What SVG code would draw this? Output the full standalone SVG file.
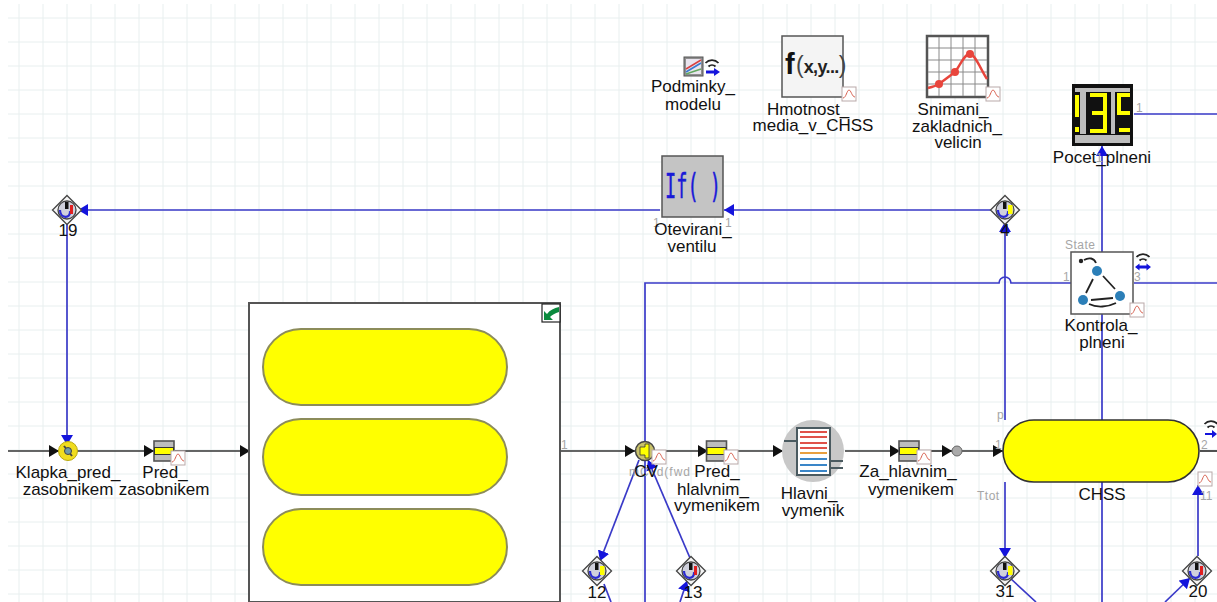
<svg xmlns="http://www.w3.org/2000/svg" width="1217" height="602" viewBox="0 0 1217 602">
<style>
text{font-family:"Liberation Sans",Arial,sans-serif}
.l{font-size:17px;fill:#111;text-anchor:middle}
.p{font-size:12px;fill:#a6a6a6}
.b{fill:none;stroke:#3a3ac8;stroke-width:1.7}
.k{fill:none;stroke:#333;stroke-width:1.7}
.g{stroke:#e8efef;stroke-width:1;fill:none}
</style>
<defs>
<marker id="ak" markerUnits="userSpaceOnUse" markerWidth="11" markerHeight="12" refX="10" refY="6" orient="auto"><path d="M0 0L10 6L0 12Z" fill="#111"/></marker>
<marker id="ab" markerUnits="userSpaceOnUse" markerWidth="11" markerHeight="12" refX="10" refY="6" orient="auto"><path d="M0 0L10 6L0 12Z" fill="#1414dc"/></marker>
<g id="plot"><rect x="-7" y="-7" width="14" height="14" fill="#fff" stroke="#b9a9a9" stroke-width="1"/><path d="M-6 4C-3 4-2-4 0-4S3 3 6 3" fill="none" stroke="#d8604f" stroke-width="1"/></g>
<g id="pipe"><rect x="-10.500" y="-10" width="20" height="20" fill="#bdbdbd" stroke="#555" stroke-width="1.600"/><rect x="-10" y="-3.500" width="19" height="7" fill="#ffff00" stroke="#333" stroke-width="1"/></g>
<g id="wifi"><path d="M-6.500-2A9 9 0 0 1 6.500-2M-3.500 1.500A5 5 0 0 1 3.500 1.500" fill="none" stroke="#222" stroke-width="1.800"/></g>
<g id="sensorBase"><path d="M0-14.500L14.500 0L0 14.500L-14.500 0Z" fill="#f4f4f4" stroke="#444" stroke-width="1.300"/><circle r="9" fill="#cfd0dc" stroke="#444" stroke-width="1.300"/><path d="M-7 0C-7 9 4 9 3 1" fill="none" stroke="#2a2ad0" stroke-width="2.200"/><rect x="-2" y="-8" width="3.500" height="7" fill="#111"/></g>
<g id="sensorY"><use href="#sensorBase"/><rect x="3" y="-5" width="4.500" height="9" fill="#ffff00"/></g>
<g id="sensorR"><use href="#sensorBase"/><rect x="3" y="-5" width="3" height="9" fill="#e02020"/></g>
<g id="tank"><rect x="-122" y="-38" width="244" height="76" rx="38" ry="38" fill="#ffff00" stroke="#8c8c5a" stroke-width="2"/></g>
</defs>

<rect width="1217" height="602" fill="#fff"/>
<g id="grid" class="g">
<path d="M19 4V602M43 4V602M67 4V602M91 4V602M115 4V602M139 4V602M163 4V602M187 4V602M211 4V602M235 4V602M259 4V602M283 4V602M307 4V602M331 4V602M355 4V602M379 4V602M403 4V602M427 4V602M451 4V602M475 4V602M499 4V602M523 4V602M547 4V602M571 4V602M595 4V602M619 4V602M643 4V602M667 4V602M691 4V602M715 4V602M739 4V602M763 4V602M787 4V602M811 4V602M835 4V602M859 4V602M883 4V602M907 4V602M931 4V602M955 4V602M979 4V602M1003 4V602M1027 4V602M1051 4V602M1075 4V602M1099 4V602M1123 4V602M1147 4V602M1171 4V602M1195 4V602"/>
<path d="M8 18H1217M8 42H1217M8 66H1217M8 90H1217M8 114H1217M8 138H1217M8 162H1217M8 186H1217M8 210H1217M8 234H1217M8 258H1217M8 282H1217M8 306H1217M8 330H1217M8 354H1217M8 378H1217M8 402H1217M8 426H1217M8 450H1217M8 474H1217M8 498H1217M8 522H1217M8 546H1217M8 570H1217M8 594H1217"/>
</g>

<g id="connectors">
<path class="k" marker-end="url(#ak)" d="M8 451H59"/>
<path class="k" marker-end="url(#ak)" d="M75 451H154"/>
<path class="k" marker-end="url(#ak)" d="M175 451H250"/>
<path class="k" marker-end="url(#ak)" d="M560 451H635"/>
<path class="k" marker-end="url(#ak)" d="M652 451H708"/>
<path class="k" marker-end="url(#ak)" d="M726 451H783"/>
<path class="k" marker-end="url(#ak)" d="M845 451H900"/>
<path class="k" marker-end="url(#ak)" d="M920 451H952"/>
<path class="k" marker-end="url(#ak)" d="M962 451H1003"/>
<path class="k" d="M1200 451H1217"/>
<path class="b" marker-end="url(#ab)" d="M660 210H78"/>
<path class="b" marker-end="url(#ab)" d="M992 210H724"/>
<path class="b" marker-end="url(#ab)" d="M67 224V445"/>
<path class="b" marker-end="url(#ab)" d="M1005 420V222"/>
<path class="b" marker-end="url(#ab)" d="M1005 482V558"/>
<path class="b" d="M645 602V283H999A6 6 0 0 1 1011 283H1071"/>
<path class="b" d="M1134 283H1217"/>
<path class="b" d="M1134 114H1217"/>
<path class="b" marker-end="url(#ab)" d="M1102 252V146"/>
<path class="b" d="M1102 314V420M1102 482V602"/>
<path class="b" marker-end="url(#ab)" d="M639 460L600 561"/>
<path class="b" marker-end="url(#ab)" d="M690 558L648 460"/>
<path class="b" d="M604 584L611 602M1010 578L1036 602"/>
<path class="b" marker-end="url(#ab)" d="M680 602L687 581"/>
<path class="b" marker-end="url(#ab)" d="M1165 602L1190 578"/>
<path class="b" marker-end="url(#ab)" d="M1198 556V485"/>
</g>

<g id="Podminky_modelu">
<rect x="684" y="57" width="19" height="19" fill="#8f8f8f" stroke="#555"/>
<rect x="686" y="59" width="15" height="15" fill="#e9e4ee"/>
<path d="M686 72L701 63" fill="none" stroke="#3a7ad0" stroke-width="1.800"/>
<path d="M686 69L701 60" fill="none" stroke="#d84040" stroke-width="1.500"/>
<path d="M686 74L701 69" fill="none" stroke="#62a860" stroke-width="1.500"/>
<use href="#wifi" x="712" y="65"/>
<path d="M706 70.500H714V68L720 72L714 76V73.500H706Z" fill="#1414dc"/>
<text class="l" x="693" y="92">Podminky_</text><text class="l" x="693" y="110">modelu</text>
</g>

<g id="Hmotnost_media_v_CHSS">
<rect x="782" y="36" width="61" height="61" fill="#f4f4f4" stroke="#555" stroke-width="1.500"/>
<text x="785" y="74" font-size="29" font-weight="700" fill="#111">f</text>
<text x="796" y="73" fill="#222"><tspan font-size="23" fill="#444">(</tspan><tspan font-size="18" font-weight="700" letter-spacing="-.6">x,y...</tspan><tspan font-size="23" fill="#444">)</tspan></text>
<use href="#plot" x="849" y="94"/>
<text class="l" x="808" y="115">Hmotnost_</text><text class="l" x="813" y="131">media_v_CHSS</text>
</g>

<g id="Snimani_zakladnich_velicin">
<rect x="927" y="36" width="61" height="61" fill="#fff" stroke="#555" stroke-width="2.500"/>
<path d="M939 37V96M951 37V96M963 37V96M975 37V96M928 48H987M928 60H987M928 72H987M928 84H987" stroke="#8a8a8a" stroke-width="1" fill="none"/>
<path d="M928 88C932 87 936 86 939 84L955 72C960 66 964 54 970 54C975 54 981 70 987 79" fill="none" stroke="#e8453c" stroke-width="2.400"/>
<circle cx="939" cy="84" r="4" fill="#e8453c"/><circle cx="955" cy="72" r="4" fill="#e8453c"/><circle cx="970" cy="54" r="4" fill="#e8453c"/>
<use href="#plot" x="993" y="94"/>
<text class="l" x="953" y="115">Snimani_</text><text class="l" x="957" y="132">zakladnich_</text><text class="l" x="958" y="148">velicin</text>
</g>

<g id="Pocet_plneni">
<rect x="1072" y="84" width="61" height="62" fill="#111"/>
<rect x="1075" y="88" width="55" height="46" fill="#bdbdbd"/>
<rect x="1075" y="135" width="55" height="8" fill="#bdbdbd"/>
<rect x="1074" y="92" width="6" height="42" fill="#111"/><rect x="1086" y="92" width="25" height="42" fill="#111"/><rect x="1115" y="92" width="15" height="42" fill="#111"/>
<path d="M1077 95V117M1077 127V132M1090 95H1105V131H1090M1092 113H1105M1130 95H1119V113H1130M1119 130H1130" fill="none" stroke="#ffff00" stroke-width="4"/>
<text class="p" x="1096" y="162">1</text><text class="p" x="1136" y="112">1</text>
<text class="l" x="1102" y="163">Pocet_plneni</text>
</g>

<g id="Otevirani_ventilu">
<rect x="662" y="156" width="61" height="61" fill="#c4c4c4" stroke="#555" stroke-width="1.500"/>
<text x="665" y="198" font-size="34" fill="#1a1ad8" stroke="#1a1ad8" stroke-width=".5" textLength="56" lengthAdjust="spacingAndGlyphs" style="font-family:'DejaVu Sans Mono',monospace">If( )</text>
<text class="p" x="653" y="227">1</text><text class="p" x="725" y="227">1</text>
<text class="l" x="693" y="235">Otevirani_</text><text class="l" x="692" y="252">ventilu</text>
</g>

<g id="Kontrola_plneni">
<rect x="1071" y="252" width="62" height="62" fill="#fff" stroke="#555" stroke-width="1.500"/>
<circle cx="1081" cy="261" r="2.200" fill="#222"/>
<path d="M1084 260C1089 257 1094 258 1096 263" fill="none" stroke="#222" stroke-width="1.800"/>
<circle cx="1097" cy="271" r="5" fill="#2c7fb8"/><circle cx="1083" cy="300" r="5" fill="#2c7fb8"/><circle cx="1120" cy="296" r="5" fill="#2c7fb8"/>
<path d="M1093 279L1086 293M1103 276L1115 289M1113 298L1091 300M1089 304C1097 308 1108 307 1116 303" fill="none" stroke="#222" stroke-width="1.800"/>
<use href="#plot" x="1137" y="310"/>
<use href="#wifi" x="1143" y="259"/>
<path d="M1135 267L1139.500 263.500V265.500H1146.500V263.500L1151 267L1146.500 270.500V268.500H1139.500V270.500Z" fill="#1414dc"/>
<text class="p" x="1065" y="249" letter-spacing=".5">State</text><text class="p" x="1063" y="281">1</text><text class="p" x="1134" y="281">3</text>
<text class="l" x="1101" y="331">Kontrola_</text><text class="l" x="1102" y="348">plneni</text>
</g>

<g id="sensor_19"><use href="#sensorR" x="67" y="210"/><text class="l" x="68" y="236">19</text></g>
<g id="sensor_4"><use href="#sensorY" x="1005" y="210"/><text class="l" x="1005" y="236">4</text></g>
<g id="sensor_12"><use href="#sensorY" x="597" y="571"/><text class="l" x="597" y="598">12</text></g>
<g id="sensor_13"><use href="#sensorR" x="691" y="571"/><text class="l" x="693" y="598">13</text></g>
<g id="sensor_31"><use href="#sensorY" x="1005" y="571"/><text class="l" x="1005" y="597">31</text></g>
<g id="sensor_20"><use href="#sensorR" x="1197" y="571"/><text class="l" x="1198" y="597">20</text></g>

<g id="Klapka_pred_zasobnikem">
<circle cx="68" cy="451" r="9.500" fill="#f0dc1e" stroke="#b8a810"/>
<path d="M64 446L72 456" stroke="#444" stroke-width="2"/><circle cx="68" cy="451" r="3.500" fill="#6f9aa8" stroke="#444"/>
<text class="l" x="68" y="478">Klapka_pred_</text><text class="l" x="68" y="495">zasobnikem</text>
</g>
<g id="Pred_zasobnikem">
<use href="#pipe" x="164.500" y="451"/><use href="#plot" x="178" y="458"/>
<text class="l" x="165" y="478">Pred_</text><text class="l" x="164" y="495">zasobnikem</text>
</g>

<g id="Zasobnik">
<rect x="249" y="303" width="311" height="299" fill="#fff" stroke="#555" stroke-width="2"/>
<use href="#tank" x="385" y="367"/><use href="#tank" x="385" y="457"/><use href="#tank" x="385" y="547"/>
<rect x="542" y="304" width="18" height="18" fill="#fff" stroke="#222" stroke-width="1.200"/>
<path d="M544 320V311L547 314C550 310 554 308 559 307V312C555 313 552 315 550 317L553 320Z" fill="#0b8a3e"/>
<text class="p" x="561" y="449">1</text>
</g>

<g id="CV">
<circle cx="645" cy="451" r="9.500" fill="#c9c26a" stroke="#444" stroke-width="1.500"/>
<path d="M640 447H645V444H649V458H645V455H640Z" fill="#ffff00" stroke="#333" stroke-width=".8"/>
<use href="#plot" x="659" y="457"/>
<text class="p" x="629" y="476" letter-spacing="1">mCvd(fwd</text>
<text class="l" x="646" y="477">CV</text>
</g>
<g id="Pred_hlalvnim_vymenikem">
<use href="#pipe" x="717" y="451"/><use href="#plot" x="731" y="457"/>
<text class="l" x="717" y="477">Pred_</text><text class="l" x="713" y="495">hlalvnim_</text><text class="l" x="717" y="511">vymenikem</text>
</g>
<g id="Hlavni_vymenik">
<circle cx="813" cy="451" r="31" fill="#c8c8c8"/>
<path d="M784 441H797M830 461H843M830 468H843" fill="none" stroke="#4a5a60" stroke-width="2"/>
<rect x="797" y="428" width="33" height="47" fill="#fff" stroke="#4a5a60" stroke-width="2"/>
<path d="M800 432H827M800 437H827M800 443H827M800 448H827" stroke="#e0524a" stroke-width="2"/>
<path d="M800 453H827" stroke="#e8a040" stroke-width="2"/>
<path d="M800 459H827M800 465H827M800 471H827" stroke="#3a86c8" stroke-width="2"/>
<text class="l" x="809" y="499">Hlavni_</text><text class="l" x="813" y="516">vymenik</text>
</g>
<g id="Za_hlavnim_vymenikem">
<use href="#pipe" x="909.500" y="451"/><use href="#plot" x="924" y="457"/>
<text class="l" x="908" y="477">Za_hlavnim_</text><text class="l" x="911" y="495">vymenikem</text>
</g>
<g id="junction"><circle cx="957" cy="451" r="5" fill="#aaa" stroke="#666"/></g>
<g id="CHSS">
<rect x="1003" y="420" width="196" height="62" rx="31" ry="31" fill="#ffff00" stroke="#333" stroke-width="1.600"/>
<text class="l" x="1102" y="500">CHSS</text>
<text class="p" x="997" y="419">p</text><text class="p" x="995" y="449">1</text><text class="p" x="977" y="500" letter-spacing=".5">Ttot</text>
<text class="p" x="1201" y="449">2</text><text class="p" x="1200" y="500">11</text>
<use href="#plot" x="1205" y="479"/>
<use href="#wifi" x="1211" y="426"/>
<path d="M1205 433H1212V430L1217 434L1212 438V435H1205Z" fill="#1414dc"/>
</g>
</svg>
